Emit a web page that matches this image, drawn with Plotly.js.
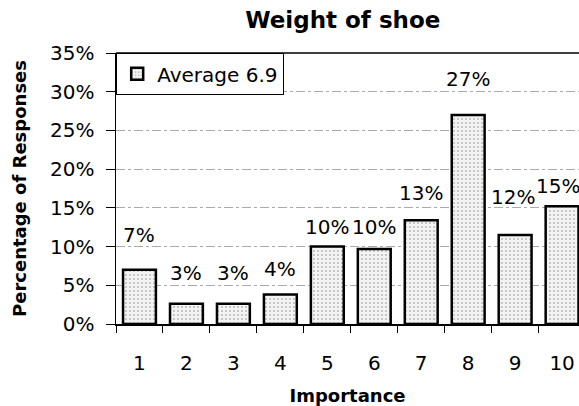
<!DOCTYPE html>
<html>
<head>
<meta charset="utf-8">
<script src="https://cdn.plot.ly/plotly-3.0.1.min.js"></script>
<style>html,body{margin:0;padding:0;background:#fff;}#chart{width:579px;height:406px;}</style>
</head>
<body>
<div id="chart"></div>
<script>
const categories = ["1","2","3","4","5","6","7","8","9","10"];
const values = [7.0, 2.6, 2.6, 3.8, 10.0, 9.7, 13.4, 27.0, 11.5, 15.2];
const labels = ["7%","3%","3%","4%","10%","10%","13%","27%","12%","15%"];
const seriesName = "Average 6.9";
const yTickVals = [0,5,10,15,20,25,30,35];
const yTickText = ["0%","5%","10%","15%","20%","25%","30%","35%"];
// label offsets relative to bar tops (px), styling only
const labelShift = [35, 31, 31, 26, 20, 22, 27, 36, 38, 20];
const labelXShift = [0, 0, 0, 0, 0, 0, 0, 0, -2, -4];

const font = "DejaVu Sans, Arial, sans-serif";

const trace = {
  type: "bar",
  x: categories,
  y: values,
  name: seriesName,
  width: 0.7,
  showlegend: true,
  marker: {
    color: "#f3f3f3",
    line: {color: "#000", width: 2.5},
    pattern: {shape: ".", fgcolor: "#8a8a8a", bgcolor: "#f3f3f3", size: 4, solidity: 0.12}
  },
  hoverinfo: "none"
};

const annotations = categories.map((c, i) => ({
  x: i, y: values[i], text: labels[i], showarrow: false,
  xref: "x", yref: "y",
  yanchor: "middle", yshift: labelShift[i], xshift: labelXShift[i],
  font: {family: font, size: 20, color: "#000"}
}));

const layout = {
  width: 579, height: 406,
  margin: {l: 116, r: 0, t: 53, b: 82},
  paper_bgcolor: "#fff", plot_bgcolor: "#fff",
  title: {text: "<b>Weight of shoe</b>", font: {family: font, size: 23, color: "#000"}, x: 0.592, xanchor: "center", y: 0.951, yanchor: "middle"},
  bargap: 0.3,
  showlegend: true,
  legend: {x: 0, y: 1, xanchor: "left", yanchor: "top", bordercolor: "#000", borderwidth: 1.2,
    bgcolor: "#fff", font: {family: font, size: 20, color: "#000"}, itemwidth: 30, tracegroupgap: 0},
  xaxis: {
    type: "category", range: [-0.5, 9.36],
    tickson: "boundaries", ticks: "outside", ticklen: 7, tickcolor: "#000", tickwidth: 1,
    showline: true, linecolor: "#000", linewidth: 1.5, mirror: false,
    showgrid: false, zeroline: false,
    ticklabelstandoff: 20,
    tickfont: {family: font, size: 20, color: "#000"},
    title: {text: "<b>Importance</b>", font: {family: font, size: 18, color: "#000"}, standoff: 17}
  },
  yaxis: {
    range: [0, 35], tickvals: yTickVals, ticktext: yTickText,
    ticks: "outside", ticklen: 9, tickcolor: "#000", tickwidth: 1,
    ticklabelstandoff: 7,
    showline: true, linecolor: "#000", linewidth: 1.5,
    showgrid: true, gridcolor: "#aaa", griddash: "dashdot", gridwidth: 1,
    zeroline: false,
    tickfont: {family: font, size: 20, color: "#000"},
    title: {text: "<b>Percentage of Responses</b>", font: {family: font, size: 18, color: "#000"}, standoff: 18}
  },
  shapes: [{type: "line", xref: "paper", yref: "paper", x0: 0, x1: 1, y0: 1, y1: 1, line: {color: "#000", width: 1.5}}],
  annotations: annotations
};

Plotly.newPlot("chart", [trace], layout, {staticPlot: true, displayModeBar: false});
</script>
</body>
</html>
